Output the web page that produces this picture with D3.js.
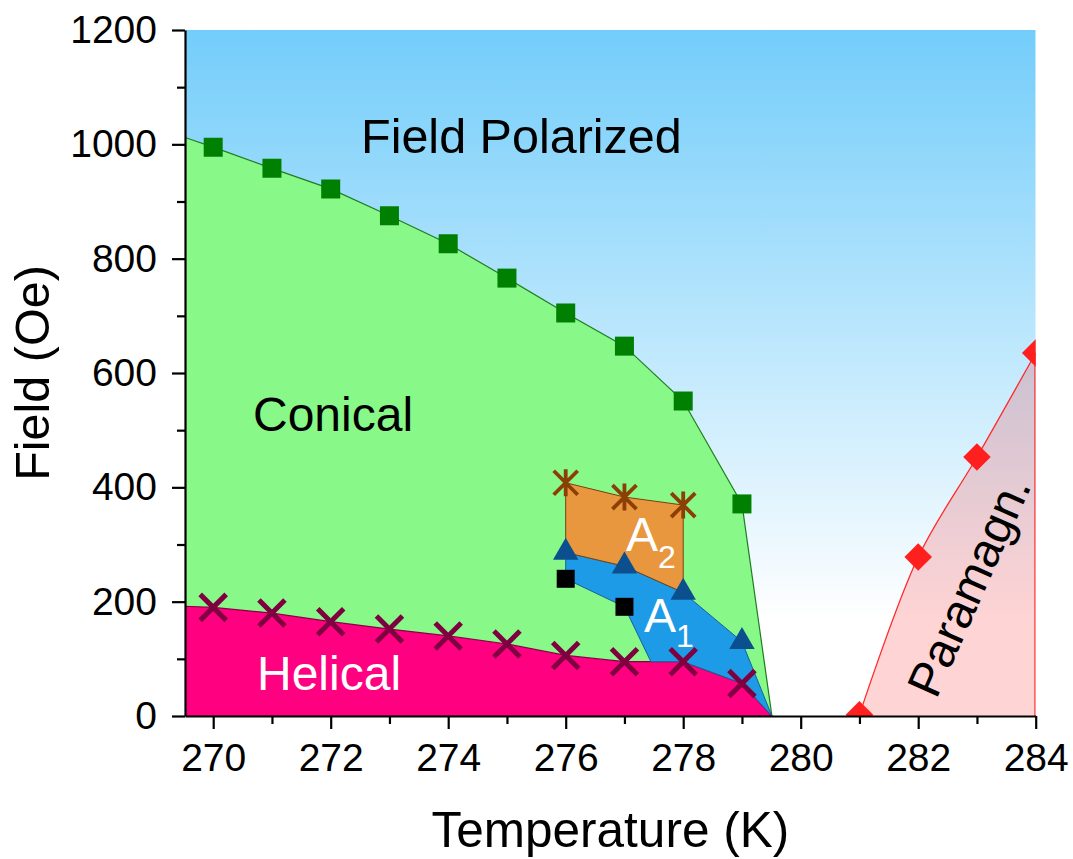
<!DOCTYPE html>
<html>
<head>
<meta charset="utf-8">
<script src="https://cdn.jsdelivr.net/npm/d3@7"></script>
<style>
  html, body { margin: 0; padding: 0; background: #ffffff; }
  svg { display: block; }
  text { font-family: "Liberation Sans", Arial, sans-serif; }
</style>
</head>
<body>
<svg id="chart" width="1073" height="859"></svg>
<script>
// ---- Data: phase boundaries of the magnetic phase diagram ----
const tempDomain = [269.52, 284];
const fieldDomain = [0, 1200];

const temps = [270, 271, 272, 273, 274, 275, 276, 277, 278, 279];
// conical -> field polarized (green squares)
const polarizedField = [995, 958, 922, 875, 826, 766, 705, 647, 551, 371];
// helical -> conical (crosses)
const helicalField = [190, 180, 165, 152, 140, 126, 106, 95, 95, 57];

// A-phase pockets
const a1Temps = [276, 277, 278, 279];
const a1UpperField = [286, 262, 216, 130];      // triangles
const a1LowerTemps = [276, 277];
const a1LowerField = [240, 191];                // black squares
const a2Temps = [276, 277, 278];
const a2UpperField = [408, 383, 369];           // stars

// paramagnetic boundary (diamonds)
const paraTemps = [281, 282, 283, 284];
const paraField = [2, 278, 453, 635];

// boundary end points
const conicalEdgeField = 1012;   // polarized boundary at the left edge
const helicalEdgeField = 192;    // helical boundary at the left edge
const orderingTemp = 279.51;     // all ordered-phase boundaries meet here at zero field
const a1Junction = [277.45, 95]; // A1 lower edge meets the helical line

const xTicks = [270, 272, 274, 276, 278, 280, 282, 284];
const xMinorTicks = [271, 273, 275, 277, 279, 281, 283];
const yTicks = [0, 200, 400, 600, 800, 1000, 1200];
const yMinorTicks = [100, 300, 500, 700, 900, 1100];

// ---- Layout ----
const svg = d3.select("#chart");
const plotLeft = 185, plotRight = 1035.7, plotTop = 30, plotBottom = 716;

const x = d3.scaleLinear().domain(tempDomain).range([plotLeft, plotRight]);
const y = d3.scaleLinear().domain(fieldDomain).range([plotBottom, plotTop]);

const defs = svg.append("defs");
const grad = defs.append("linearGradient")
  .attr("id", "sky").attr("x1", 0).attr("y1", 0).attr("x2", 0).attr("y2", 1);
grad.append("stop").attr("offset", 0).attr("stop-color", "#73cdfa");
grad.append("stop").attr("offset", 0.86).attr("stop-color", "#ffffff");
grad.append("stop").attr("offset", 1).attr("stop-color", "#ffffff");

defs.append("clipPath").attr("id", "plotClip")
  .append("rect").attr("x", plotLeft).attr("y", plotTop)
  .attr("width", plotRight - plotLeft).attr("height", plotBottom - plotTop);

const plot = svg.append("g").attr("clip-path", "url(#plotClip)");

// field-polarized background
plot.append("rect")
  .attr("x", plotLeft).attr("y", plotTop)
  .attr("width", plotRight - plotLeft).attr("height", plotBottom - plotTop)
  .attr("fill", "url(#sky)");

const zip = (ts, hs) => ts.map((t, i) => [t, hs[i]]);
const poly = d3.line().x(d => x(d[0])).y(d => y(d[1]));

const polarizedPts = zip(temps, polarizedField);
const helicalPts = zip(temps, helicalField);
const a1UpperPts = zip(a1Temps, a1UpperField);
const a1LowerPts = zip(a1LowerTemps, a1LowerField);
const a2UpperPts = zip(a2Temps, a2UpperField);
const paraPts = zip(paraTemps, paraField);

// conical region
const conicalPoly = [[tempDomain[0], conicalEdgeField], ...polarizedPts,
  [orderingTemp, 0], [tempDomain[0], 0]];
plot.append("path").attr("d", poly(conicalPoly) + "Z")
  .attr("fill", "#88f888").attr("stroke", "#1f7d1f").attr("stroke-width", 1.2);

// helical region
const helicalPoly = [[tempDomain[0], helicalEdgeField], ...helicalPts,
  [orderingTemp, 0], [tempDomain[0], 0]];
plot.append("path").attr("d", poly(helicalPoly) + "Z")
  .attr("fill", "#ff0080").attr("stroke", "#8a0045").attr("stroke-width", 1.2);

// A1 pocket
const helicalAbove = helicalPts.filter(p => p[0] > a1Junction[0]).reverse();
const a1Poly = [...a1UpperPts, [orderingTemp, 0], ...helicalAbove,
  a1Junction, ...a1LowerPts.slice().reverse()];
plot.append("path").attr("d", poly(a1Poly) + "Z")
  .attr("fill", "#1e9be6").attr("stroke", "#1a5f9a").attr("stroke-width", 1);

// A2 pocket
const a2Poly = [...a2UpperPts,
  ...a1UpperPts.filter(p => p[0] <= a2Temps[a2Temps.length - 1]).reverse()];
plot.append("path").attr("d", poly(a2Poly) + "Z")
  .attr("fill", "#e8973e").attr("stroke", "#7a4010").attr("stroke-width", 1);

// paramagnetic region
const paraCurve = d3.curveCatmullRom.alpha(0.5);
const paraArea = d3.area().curve(paraCurve)
  .x(d => x(d[0])).y0(y(0)).y1(d => y(d[1]));
plot.append("path").datum(paraPts).attr("d", paraArea)
  .attr("fill", "rgba(255,0,0,0.17)").attr("stroke", "none");
plot.append("path").datum(paraPts)
  .attr("d", d3.line().curve(paraCurve).x(d => x(d[0])).y(d => y(d[1])))
  .attr("fill", "none").attr("stroke", "#ff2a2a").attr("stroke-width", 1.3);
plot.append("line")
  .attr("x1", x(paraTemps[paraTemps.length - 1]) - 0.7)
  .attr("x2", x(paraTemps[paraTemps.length - 1]) - 0.7)
  .attr("y1", y(paraField[paraField.length - 1])).attr("y2", y(0))
  .attr("stroke", "#ff2a2a").attr("stroke-width", 1.3);

// ---- Markers ----
const at = d => `translate(${x(d[0])},${y(d[1])})`;

plot.selectAll(".sq-green").data(polarizedPts).join("path")
  .attr("transform", at)
  .attr("d", d3.symbol().type(d3.symbolSquare).size(19 * 19))
  .attr("fill", "#008000");

plot.selectAll(".sq-black").data(a1LowerPts).join("path")
  .attr("transform", at)
  .attr("d", d3.symbol().type(d3.symbolSquare).size(18 * 18))
  .attr("fill", "#000000");

const crossPath = "M-13,-13L13,13M13,-13L-13,13";
plot.selectAll(".cross").data(helicalPts).join("path")
  .attr("transform", at)
  .attr("d", crossPath)
  .attr("stroke", "#7f0040").attr("stroke-width", 5).attr("fill", "none");

plot.selectAll(".tri").data(a1UpperPts).join("path")
  .attr("transform", at)
  .attr("d", d3.symbol().type(d3.symbolTriangle).size(280))
  .attr("fill", "#0b4f8f");

const starPath = "M0,-13.5L0,13.5M-12,-12L12,12M12,-12L-12,12";
plot.selectAll(".star").data(a2UpperPts).join("path")
  .attr("transform", at)
  .attr("d", starPath)
  .attr("stroke", "#8b3f05").attr("stroke-width", 3.8).attr("fill", "none");

plot.selectAll(".diamond").data(paraPts).join("path")
  .attr("transform", d => at(d) + " rotate(45)")
  .attr("d", d3.symbol().type(d3.symbolSquare).size(19.5 * 19.5))
  .attr("fill", "#ff1f1f");

// ---- Axes ----
const axisFont = 39;
const fmt = d3.format("d");

svg.append("g").attr("transform", `translate(${plotLeft},0)`)
  .call(d3.axisLeft(y).tickValues(yTicks).tickFormat(fmt)
    .tickSize(13).tickPadding(15).tickSizeOuter(0));
svg.append("g").attr("transform", `translate(${plotLeft},0)`)
  .call(d3.axisLeft(y).tickValues(yMinorTicks).tickSize(8).tickFormat("").tickSizeOuter(0))
  .select(".domain").remove();

svg.append("g").attr("transform", `translate(0,${plotBottom})`)
  .call(d3.axisBottom(x).tickValues(xTicks).tickFormat(fmt)
    .tickSize(13).tickPadding(14).tickSizeOuter(0));
svg.append("g").attr("transform", `translate(0,${plotBottom})`)
  .call(d3.axisBottom(x).tickValues(xMinorTicks).tickSize(8).tickFormat("").tickSizeOuter(0))
  .select(".domain").remove();

svg.selectAll(".domain").attr("stroke", "#000").attr("stroke-width", 2.2);
svg.selectAll(".tick line").attr("stroke", "#000").attr("stroke-width", 2.2);
svg.selectAll(".tick text")
  .attr("fill", "#000")
  .style("font-size", axisFont + "px")
  .style("font-family", '"Liberation Sans", Arial, sans-serif');

// axis titles
svg.append("text")
  .attr("x", (plotLeft + plotRight) / 2).attr("y", 847)
  .attr("text-anchor", "middle")
  .style("font-size", "49.5px").attr("fill", "#000")
  .text("Temperature (K)");

svg.append("text")
  .attr("transform", `translate(49,${(plotTop + plotBottom) / 2}) rotate(-90)`)
  .attr("text-anchor", "middle")
  .style("font-size", "48.5px").attr("fill", "#000")
  .text("Field (Oe)");

// ---- Phase labels ----
svg.append("text").attr("x", 361).attr("y", 153)
  .style("font-size", "48.5px").attr("fill", "#000").text("Field Polarized");

svg.append("text").attr("x", 253).attr("y", 431)
  .style("font-size", "48px").attr("fill", "#000").text("Conical");

svg.append("text").attr("x", 257).attr("y", 690)
  .style("font-size", "48px").attr("fill", "#fff").text("Helical");

const a2Label = svg.append("text").attr("x", 626).attr("y", 551)
  .style("font-size", "48px").attr("fill", "#fff");
a2Label.append("tspan").text("A");
a2Label.append("tspan").attr("dy", 17).style("font-size", "32px").text("2");

const a1Label = svg.append("text").attr("x", 644).attr("y", 632)
  .style("font-size", "48px").attr("fill", "#fff");
a1Label.append("tspan").text("A");
a1Label.append("tspan").attr("dy", 15).style("font-size", "32px").text("1");

svg.append("text")
  .attr("transform", "translate(969,586) rotate(-66)")
  .attr("text-anchor", "middle").attr("dominant-baseline", "central")
  .style("font-size", "48px").attr("fill", "#000")
  .text("Paramagn.");
</script>
</body>
</html>
